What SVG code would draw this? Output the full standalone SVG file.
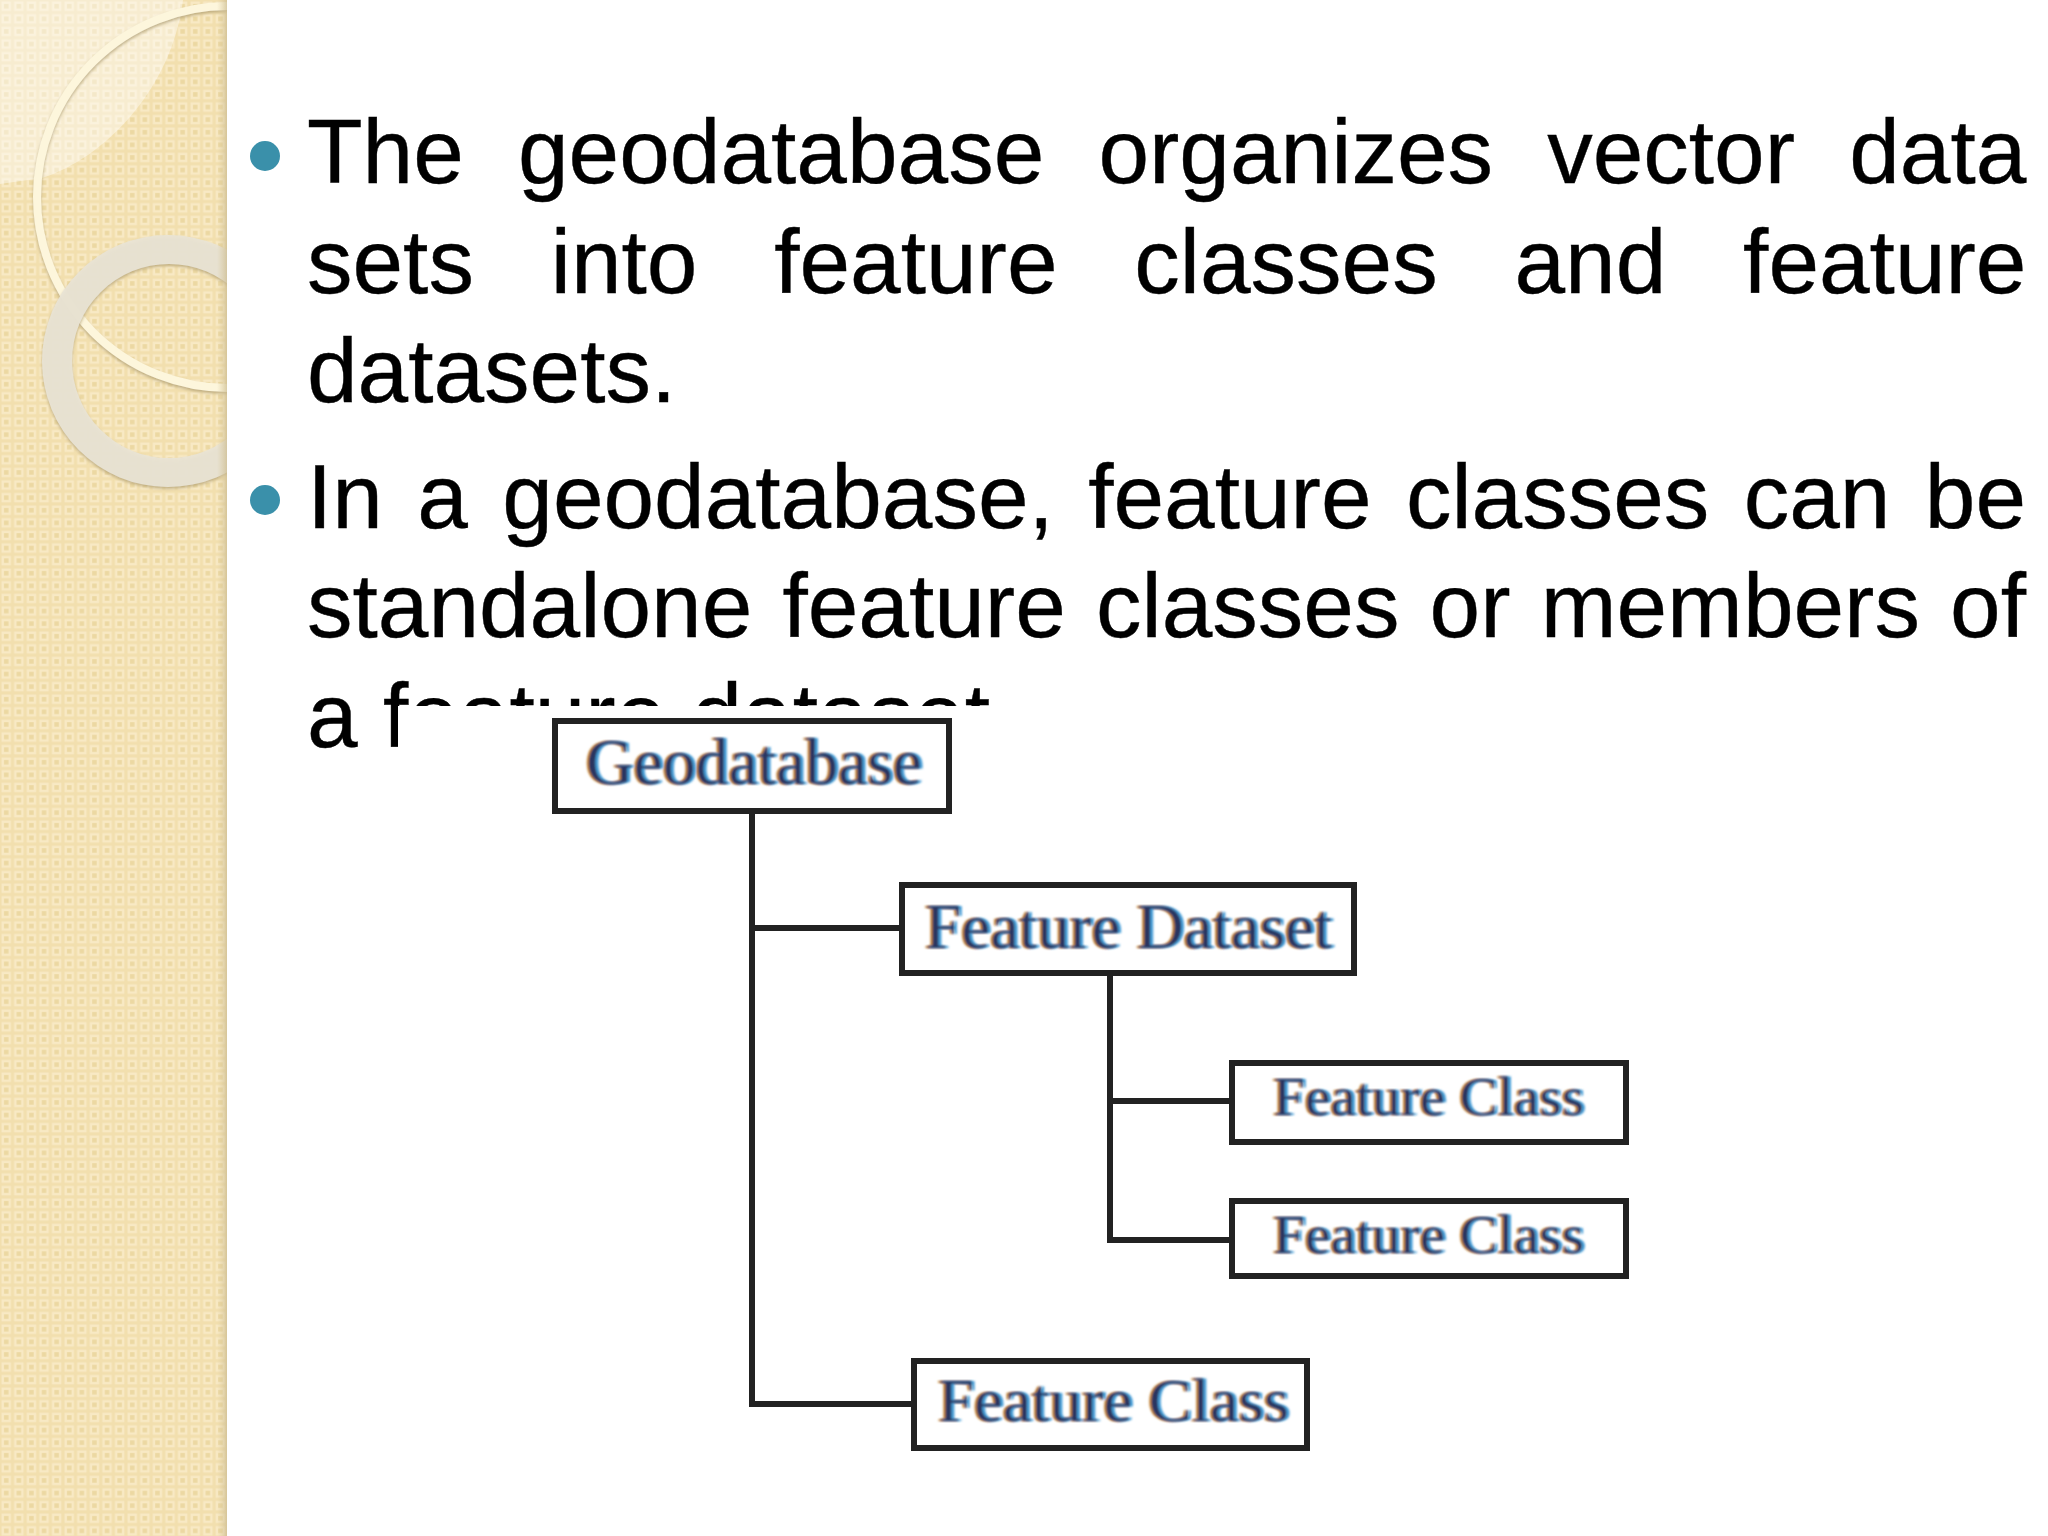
<svg xmlns="http://www.w3.org/2000/svg" width="2048" height="1536" viewBox="0 0 2048 1536">
<style>
.body{font-family:"Liberation Sans",Arial,sans-serif;font-size:91px;fill:#000;stroke:#000;stroke-width:.4}
.lbl{font-family:"Liberation Serif","Times New Roman",serif;fill:#2b3560;filter:url(#fringe)}
.box{fill:#fff;stroke:#222;stroke-width:6}
.con{fill:none;stroke:#222;stroke-width:6}
.bul{fill:#3a90aa}
</style>
<defs>
<pattern id="tile" width="12.6" height="12.6" patternUnits="userSpaceOnUse">
<rect width="12.6" height="12.6" fill="#f2dfae"/>
<rect x="1.5" y="1.5" width="9.500" height="9.500" fill="#f8e9c4"/>
<rect x="4" y="4" width="4.500" height="4.500" fill="#ecd8a2"/>
</pattern>
<clipPath id="side"><rect width="227" height="1536"/></clipPath>
<linearGradient id="edge" x1="0" x2="1" y1="0" y2="0">
<stop offset="0" stop-color="#d9c99c" stop-opacity="0"/>
<stop offset="1" stop-color="#cdbd92" stop-opacity=".75"/>
</linearGradient>
<filter id="fringe" x="-5%" y="-20%" width="110%" height="140%">
<feGaussianBlur in="SourceAlpha" stdDeviation="1.2" result="a"/>
<feOffset in="a" dx="-2.500" result="l"/>
<feFlood flood-color="#c98a3e" result="o"/>
<feComposite in="o" in2="l" operator="in" result="left"/>
<feOffset in="a" dx="2.500" result="r"/>
<feFlood flood-color="#4a9fd8" result="b"/>
<feComposite in="b" in2="r" operator="in" result="right"/>
<feGaussianBlur in="SourceGraphic" stdDeviation="1" result="main"/>
<feMerge><feMergeNode in="left"/><feMergeNode in="right"/><feMergeNode in="main"/></feMerge>
</filter>
<filter id="soft" x="-10%" y="-10%" width="120%" height="120%"><feDropShadow dx="0" dy="2" stdDeviation="1.5" flood-color="#a8966a" flood-opacity=".7"/></filter>
</defs>
<rect width="2048" height="1536" fill="#fff"/>
<g id="sidebar" clip-path="url(#side)">
<rect width="227" height="1536" fill="url(#tile)"/>
<path d="M0 0H183C172 88 105 158 42 178L0 184Z" fill="#fff" fill-opacity=".42"/>
<circle cx="228" cy="197" r="191" fill="none" stroke="#fdf6dc" stroke-width="8" filter="url(#soft)"/>
<path fill-rule="evenodd" d="M42 361a126 126 0 1 0 252 0a126 126 0 1 0 -252 0ZM72 361a97 97 0 1 0 194 0a97 97 0 1 0 -194 0Z" fill="#e9e4d5" fill-opacity=".93" filter="url(#soft)"/>
<rect x="217" width="10" height="1536" fill="url(#edge)"/>
</g>
<g id="bullets">
<circle class="bul" cx="265" cy="156" r="15"/>
<circle class="bul" cx="265" cy="500" r="15"/>
</g>
<g id="bodytext">
<text class="body" x="307" y="183" word-spacing="28.9">The geodatabase organizes vector data</text>
<text class="body" x="307" y="293" word-spacing="51.5">sets into feature classes and feature</text>
<text class="body" x="307" y="402">datasets.</text>
<text class="body" x="307" y="528" word-spacing="9.1">In a geodatabase, feature classes can be</text>
<text class="body" x="307" y="637" word-spacing="4.9">standalone feature classes or members of</text>
<text class="body" x="307" y="747">a feature dataset.</text>
</g>
<rect id="picture-ground" x="398" y="706" width="1300" height="780" fill="#fff"/>
<g id="connectors">
<path class="con" d="M752 811V1404H913"/>
<path class="con" d="M752 928H901"/>
<path class="con" d="M1110 973V1240H1232"/>
<path class="con" d="M1110 1101H1232"/>
</g>
<g id="node-geodatabase">
<rect class="box" x="555" y="721" width="394" height="90"/>
<text class="lbl" x="586" y="784" font-size="66" textLength="336" lengthAdjust="spacingAndGlyphs">Geodatabase</text>
</g>
<g id="node-feature-dataset">
<rect class="box" x="902" y="885" width="452" height="88"/>
<text class="lbl" x="925" y="948" font-size="64" textLength="407" lengthAdjust="spacingAndGlyphs">Feature Dataset</text>
</g>
<g id="node-feature-class-1">
<rect class="box" x="1232" y="1063" width="394" height="79"/>
<text class="lbl" x="1273" y="1115" font-size="55" textLength="311" lengthAdjust="spacingAndGlyphs">Feature Class</text>
</g>
<g id="node-feature-class-2">
<rect class="box" x="1232" y="1201" width="394" height="75"/>
<text class="lbl" x="1273" y="1253" font-size="55" textLength="311" lengthAdjust="spacingAndGlyphs">Feature Class</text>
</g>
<g id="node-feature-class-3">
<rect class="box" x="914" y="1361" width="393" height="87"/>
<text class="lbl" x="938" y="1421" font-size="62" textLength="351" lengthAdjust="spacingAndGlyphs">Feature Class</text>
</g>
</svg>
